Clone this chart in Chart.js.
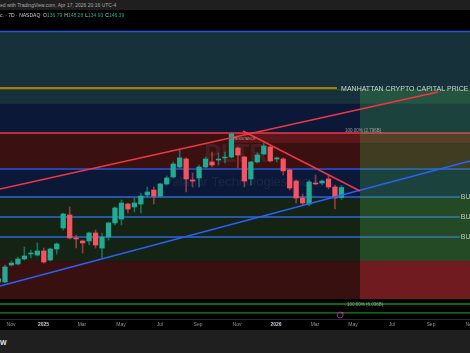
<!DOCTYPE html>
<html>
<head>
<meta charset="utf-8">
<script src="https://cdn.jsdelivr.net/npm/chart.js@4"></script>
<style>
  body { margin: 0; background: #000; width: 470px; height: 353px; overflow: hidden; position: relative; font-family: "Liberation Sans", Arial, sans-serif; }
  #wrap { position: absolute; left: 0; top: 0; width: 470px; height: 353px; }
  #topbar { position: absolute; left: 0; top: 0; width: 470px; height: 10px; background: #1f1f1f; color: #a9a9a9; font-size: 5px; line-height: 10px; white-space: nowrap; }
  #legend { position: absolute; left: 0; top: 12px; font-size: 5px; line-height: 7px; color: #c9ccd4; white-space: nowrap; }
  #legend b { font-weight: normal; color: #22ab94; margin-right: 2px; }
  #footer { position: absolute; left: 0; top: 330px; width: 470px; height: 23px; background: #1f1f1f; color: #e6e6e6; font-size: 7px; font-weight: bold; }
  #footer span { position: absolute; left: 0; top: 9px; }
</style>
</head>
<body>
<div id="wrap"><canvas id="priceChart"></canvas></div>
<div id="topbar">ed with TradingView.com, Apr 17, 2026 20:16 UTC-4</div>
<div id="legend">c. · 7D · NASDAQ &nbsp;O<b>136.79</b>H<b>148.28</b>L<b>134.93</b>C<b>146.39</b></div>
<div id="footer"><span>W</span></div>
<script>
// bougies (premiere bougie coupee a gauche)
var candleOpen = [55.6, 55.6, 71.9, 72.9, 77.7, 82.5, 81.5, 85.4, 76.7, 87.3, 107.5, 120.0, 97.9, 95.0, 95.0, 102.7, 88.2, 98.8, 112.3, 116.1, 130.5, 127.7, 130.5, 139.2, 144.0, 138.2, 149.8, 156.5, 166.1, 173.8, 153.6, 155.5, 166.1, 170.9, 172.8, 174.8, 175.7, 184.4, 175.7, 154.6, 170.9, 178.6, 185.3, 173.8, 173.8, 163.2, 152.6, 136.3, 130.5, 150.7, 150.7, 154.6, 146.9, 136.79];
var candleHigh = [59.4, 71.9, 75.8, 79.6, 89.2, 86.3, 93.1, 88.2, 88.2, 93.1, 121.9, 127.7, 100.7, 95.9, 103.6, 105.5, 102.7, 113.2, 127.7, 134.4, 131.5, 136.3, 141.1, 146.9, 146.9, 150.7, 157.5, 170.9, 182.4, 174.8, 160.3, 168.0, 175.7, 180.5, 179.6, 180.5, 198.8, 185.3, 176.5, 171.5, 179.6, 189.2, 186.3, 175.7, 174.8, 164.0, 153.6, 140.1, 153.6, 158.4, 153.6, 158.4, 148.8, 148.28];
var candleLow = [54.6, 54.6, 70.9, 71.9, 76.7, 78.6, 80.6, 73.8, 75.8, 82.5, 105.5, 96.9, 88.2, 83.4, 91.1, 88.2, 78.6, 95.9, 110.4, 110.4, 121.9, 122.8, 121.9, 137.3, 130.5, 137.3, 148.8, 155.5, 165.1, 142.1, 146.9, 146.9, 165.1, 166.1, 168.0, 169.9, 174.8, 165.1, 146.9, 148.8, 169.9, 177.6, 170.9, 170.9, 158.4, 144.0, 131.5, 129.6, 128.6, 148.8, 148.8, 145.0, 125.7, 134.93];
var candleClose = [58.5, 70.0, 73.8, 77.7, 80.6, 83.4, 85.4, 74.8, 87.3, 92.1, 120.9, 97.9, 96.9, 93.1, 102.7, 91.1, 98.8, 112.3, 126.7, 131.5, 125.7, 131.5, 138.2, 142.1, 138.2, 149.8, 155.5, 169.0, 174.8, 154.6, 152.6, 166.1, 173.8, 168.0, 173.8, 175.7, 197.8, 177.6, 152.6, 170.9, 177.6, 186.3, 171.9, 174.8, 162.3, 145.9, 136.3, 131.5, 151.7, 149.8, 152.6, 146.9, 136.3, 146.39];

// axe du temps (en numero de bougie)
var tickLabels = ['Nov', '2025', 'Mar', 'May', 'Jul', 'Sep', 'Nov', '2026', 'Mar', 'May', 'Jul', 'Sep', 'Nov'];
var tickAt = [0.93, 5.95, 11.9, 17.93, 23.96, 29.83, 35.86, 41.89, 47.91, 53.79, 59.81, 65.84, 71.87];

// zones et niveaux (prix)
var zoneEdges = [295.9, 226.7, 198.8, 164.2, 137.3, 75.7, 39.2];
var blueLevels = [296.3, 164.2];
var buyLevels = [137.3, 118.0, 98.8];
var resistanceLevel = 198.8;
var mccLevel = 242.0;
var mccBase = 240.6;
var fibLevels = [34.4, 25.8];
var targetTop = 240.1;
var stopLevel = 75.7;
var stopBottom = 39.2;
var projectionStart = 54.87;

// lignes de tendance
var upperChannel = [{x: -0.77, y: 144.95}, {x: 66.92, y: 238.18}];
var downTrend = [{x: 36.78, y: 200.7}, {x: 54.87, y: 143.03}];
var lowerChannel = [{x: -0.77, y: 51.72}, {x: 71.87, y: 171.86}];

var upColor = '#22ab94', downColor = '#f7525f';
var isUp = candleClose.map(function (c, i) { return c >= candleOpen[i]; });

var backdrop = {
    id: 'backdrop',
    beforeDatasetsDraw: function (chart) {
        var ctx = chart.ctx, a = chart.chartArea, x = chart.scales.x, y = chart.scales.y;
        var zoneColors = ['#17313b', '#0b1838', '#3a1010', '#0b1838', '#142314', '#381010'];
        ctx.save();
        for (var i = 0; i < zoneEdges.length - 1; i++) {
            var y0 = y.getPixelForValue(zoneEdges[i]), y1 = y.getPixelForValue(zoneEdges[i + 1]);
            ctx.fillStyle = zoneColors[i];
            ctx.fillRect(a.left, y0, a.width, y1 - y0);
        }
        // zone resistance
        var rx = x.getPixelForValue(35);
        var ry0 = y.getPixelForValue(resistanceLevel), ry1 = y.getPixelForValue(189.2);
        ctx.fillStyle = 'rgba(242,54,69,0.18)';
        ctx.fillRect(rx, ry0, a.right - rx, ry1 - ry0);

        // filigrane
        ctx.textAlign = 'center';
        ctx.textBaseline = 'alphabetic';
        ctx.fillStyle = 'rgba(190,190,200,0.09)';
        ctx.font = 'bold 25px "Liberation Sans", Arial, sans-serif';
        ctx.fillText('PLTR', x.getPixelForValue(35.7), y.getPixelForValue(170.9));
        ctx.font = '13px "Liberation Sans", Arial, sans-serif';
        ctx.fillText('Palantir Technologies Inc', x.getPixelForValue(35.7), y.getPixelForValue(147.8));

        function hline(level, color, width, from, to) {
            var py = y.getPixelForValue(level);
            ctx.beginPath();
            ctx.strokeStyle = color;
            ctx.lineWidth = width;
            ctx.moveTo(from === undefined ? a.left : x.getPixelForValue(from), py);
            ctx.lineTo(to === undefined ? a.right : x.getPixelForValue(to), py);
            ctx.stroke();
        }
        blueLevels.forEach(function (l) { hline(l, '#2458d8', 1.6); });
        buyLevels.forEach(function (l) { hline(l, '#2a6ad6', 1.4, undefined, 70.3); });
        hline(resistanceLevel, '#f23645', 1.5);
        hline(mccBase, '#1b5e20', 1);
        hline(mccLevel, '#ef8f00', 1.5, undefined, 51.3);
        fibLevels.forEach(function (l) { hline(l, '#128a12', 1.3); });

        // zone de projection
        var px = x.getPixelForValue(projectionStart);
        var gy0 = y.getPixelForValue(targetTop), gy1 = y.getPixelForValue(stopLevel), sy1 = y.getPixelForValue(stopBottom);
        ctx.fillStyle = 'rgba(76,175,80,0.28)';
        ctx.fillRect(px, gy0, a.right - px, gy1 - gy0);
        ctx.fillStyle = 'rgba(242,54,69,0.3)';
        ctx.fillRect(px, gy1, a.right - px, sy1 - gy1);
        ctx.restore();
    },
    afterDatasetsDraw: function (chart) {
        var ctx = chart.ctx, x = chart.scales.x, y = chart.scales.y;
        ctx.save();
        ctx.textAlign = 'left';
        ctx.textBaseline = 'middle';
        ctx.fillStyle = '#d1d4dc';
        ctx.font = '7px "Liberation Sans", Arial, sans-serif';
        ctx.fillText('MANHATTAN CRYPTO CAPITAL PRICE', x.getPixelForValue(51.95), y.getPixelForValue(mccLevel) + 1);
        ctx.fillStyle = '#b9cbb9';
        ctx.font = '7px "Liberation Sans", Arial, sans-serif';
        buyLevels.forEach(function (l) {
            ctx.fillText('BUY', x.getPixelForValue(70.45), y.getPixelForValue(l));
        });
        ctx.fillStyle = 'rgba(190,195,200,0.75)';
        ctx.font = '4.5px "Liberation Sans", Arial, sans-serif';
        ctx.fillText('100.00% (2.796B)', x.getPixelForValue(52.55), y.getPixelForValue(200.7));
        ctx.fillText('100.00% (6.036B)', x.getPixelForValue(52.86), y.getPixelForValue(33.5));
        ctx.font = '3.5px "Liberation Sans", Arial, sans-serif';
        ctx.fillStyle = 'rgba(210,210,210,0.7)';
        ctx.fillText('RESISTANCE', x.getPixelForValue(35.3), y.getPixelForValue(193.3));
        // icone evenement
        var cx = x.getPixelForValue(51.8), cy = y.getPixelForValue(23.8);
        ctx.beginPath();
        ctx.strokeStyle = '#9c27b0';
        ctx.lineWidth = 1;
        ctx.arc(cx, cy, 3, 0, Math.PI * 2);
        ctx.stroke();
        ctx.beginPath();
        ctx.fillStyle = '#f23645';
        ctx.arc(cx + 2.2, cy - 2.2, 1, 0, Math.PI * 2);
        ctx.fill();
        ctx.restore();
    }
};

var ctxPrice = document.getElementById('priceChart').getContext('2d');
var priceChart = new Chart(ctxPrice, {
    type: 'bar',
    data: {
        datasets: [{
            label: 'wicks',
            data: candleLow.map(function (l, i) { return {x: i - 1, y: [l, candleHigh[i]]}; }),
            backgroundColor: isUp.map(function (u) { return u ? 'rgba(34,171,148,0.55)' : 'rgba(247,82,95,0.55)'; }),
            barThickness: 1,
            grouped: false,
            order: 3
        }, {
            label: 'bodies',
            data: candleOpen.map(function (o, i) { return {x: i - 1, y: [o, candleClose[i]]}; }),
            backgroundColor: isUp.map(function (u) { return u ? upColor : downColor; }),
            barThickness: 4.6,
            grouped: false,
            order: 2
        }, {
            type: 'line',
            data: upperChannel,
            borderColor: '#f23645',
            borderWidth: 1.5,
            pointRadius: 0,
            order: 1
        }, {
            type: 'line',
            data: downTrend,
            borderColor: '#f23645',
            borderWidth: 1.5,
            pointRadius: 0,
            order: 1
        }, {
            type: 'line',
            data: lowerChannel,
            borderColor: '#2962ff',
            borderWidth: 1.5,
            pointRadius: 0,
            order: 1
        }]
    },
    options: {
        responsive: true,
        maintainAspectRatio: false,
        animation: false,
        devicePixelRatio: 1,
        layout: {padding: {top: 10, bottom: 23, left: 0, right: 0}},
        plugins: {legend: {display: false}, tooltip: {enabled: false}},
        scales: {
            x: {
                type: 'linear',
                offset: false,
                min: -0.77,
                max: 71.87,
                grid: {display: false, drawTicks: false, offset: false},
                border: {display: true, color: '#2a2a2a'},
                afterBuildTicks: function (s) { s.ticks = tickAt.map(function (v) { return {value: v}; }); },
                afterFit: function (s) { s.height = 11; s.paddingLeft = 0; s.paddingRight = 0; },
                ticks: {
                    autoSkip: false,
                    maxRotation: 0,
                    padding: 3,
                    callback: function (v, i) { return tickLabels[i]; },
                    color: function (c) { return /^\d/.test(tickLabels[c.index]) ? '#c9ccd4' : '#8f939c'; },
                    font: function (c) { return {size: 5, family: '"Liberation Sans", Arial, sans-serif', weight: /^\d/.test(tickLabels[c.index]) ? 'bold' : 'normal'}; }
                }
            },
            y: {
                type: 'linear',
                display: false,
                min: 20,
                max: 317
            }
        }
    },
    plugins: [backdrop]
});
</script>
</body>
</html>
